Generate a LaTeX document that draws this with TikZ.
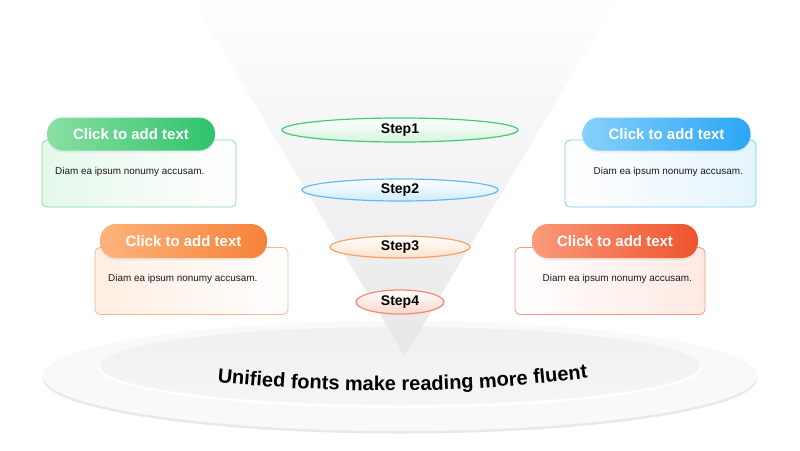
\documentclass[tikz,border=0pt]{standalone}
\usepackage{fontspec}
\setmainfont{Liberation Sans}
\usetikzlibrary{shapes.geometric,shadows,decorations.text,fadings}
\definecolor{gA}{HTML}{8ADFA4}\definecolor{gB}{HTML}{2FC36B}
\definecolor{bA}{HTML}{86D0FB}\definecolor{bB}{HTML}{2BA6F5}
\definecolor{oA}{HTML}{FDB37A}\definecolor{oB}{HTML}{F7823A}
\definecolor{rA}{HTML}{FA9A7A}\definecolor{rB}{HTML}{F0542E}
\tikzset{
 pill/.style={rounded corners=16pt, minimum width=168pt, minimum height=33pt, text=white,
   font=\fontsize{15}{18}\selectfont\bfseries, inner sep=0pt,
   drop shadow={opacity=0.12,shadow xshift=0pt,shadow yshift=-2pt}},
 cardbody/.style={rounded corners=5pt, minimum width=194pt, minimum height=67pt, inner sep=0pt, line width=0.8pt},
 bodytext/.style={font=\fontsize{9.9}{11}\selectfont, inner sep=0pt, text=black!90},
 stepell/.style={ellipse, inner sep=0pt, line width=1.2pt, font=\fontsize{14}{16}\selectfont\bfseries, text=black},
}
\begin{document}
\begin{tikzpicture}[x=1pt,y=-1pt]
\useasboundingbox (0,0) rectangle (800,450);
\fill[white] (0,0) rectangle (800,450);
% base
\fill[black!9] (400,378.5) ellipse (357pt and 55pt);
\fill[black!2.5] (400,376) ellipse (357pt and 55pt);
\fill[white] (400,368) ellipse (301pt and 40pt);
\fill[black!3.5] (400,366) ellipse (300pt and 39pt);
\fill[black!6, path fading=south] (400,366) ellipse (300pt and 39pt);
% funnel
\fill[black!9, path fading=north] (193,0) -- (617,0) -- (405,356) -- cycle;
% curved text
\path[decorate, decoration={text along path, text align=center,
  text={|\fontsize{20}{24}\selectfont\bfseries|Unified fonts make reading more fluent}}]
  (195,380) .. controls (330,395) and (470,395) .. (610,375);
% steps
\node[stepell, draw=gB!90, top color=white, bottom color=gA!35, minimum width=236pt, minimum height=24pt] (s1) at (400,130) {Step1};
\node[stepell, draw=bB!75, top color=white, bottom color=bA!40, minimum width=196pt, minimum height=22pt] (s2) at (400,190) {Step2};
\node[stepell, draw=oB!75, top color=white, bottom color=oA!40, minimum width=140pt, minimum height=22pt] (s3) at (400,247) {Step3};
\node[stepell, draw=rB!70, top color=white, bottom color=rA!40, minimum width=88pt, minimum height=24pt] (s4) at (400,302) {Step4};
% green card
\node[cardbody, draw=gB!60, left color=gA!22, right color=white] (gbody) at (139,173.5) {};
\node[pill, left color=gA, right color=gB] (gpill) at (131,134) {Click to add text};
\node[bodytext, anchor=west] (gtext) at (55,172) {Diam ea ipsum nonumy accusam.};
% blue card
\node[cardbody, draw=bB!60, left color=white, right color=bA!22, minimum width=191pt] (bbody) at (660.5,173.5) {};
\node[pill, left color=bA, right color=bB] (bpill) at (666.5,134) {Click to add text};
\node[bodytext, anchor=east] (btext) at (743,172) {Diam ea ipsum nonumy accusam.};
% orange card
\node[cardbody, draw=oB!60, left color=oA!22, right color=white, minimum width=193pt] (obody) at (191.5,281) {};
\node[pill, left color=oA, right color=oB, minimum width=167pt, minimum height=34pt] (opill) at (183.5,241) {Click to add text};
\node[bodytext, anchor=west] (otext) at (108,279) {Diam ea ipsum nonumy accusam.};
% red card
\node[cardbody, draw=rB!60, left color=white, right color=rA!22, minimum width=190pt] (rbody) at (610,281) {};
\node[pill, left color=rA, right color=rB, minimum width=166pt, minimum height=34pt] (rpill) at (615,241) {Click to add text};
\node[bodytext, anchor=east] (rtext) at (692,279) {Diam ea ipsum nonumy accusam.};
\end{tikzpicture}
\end{document}
